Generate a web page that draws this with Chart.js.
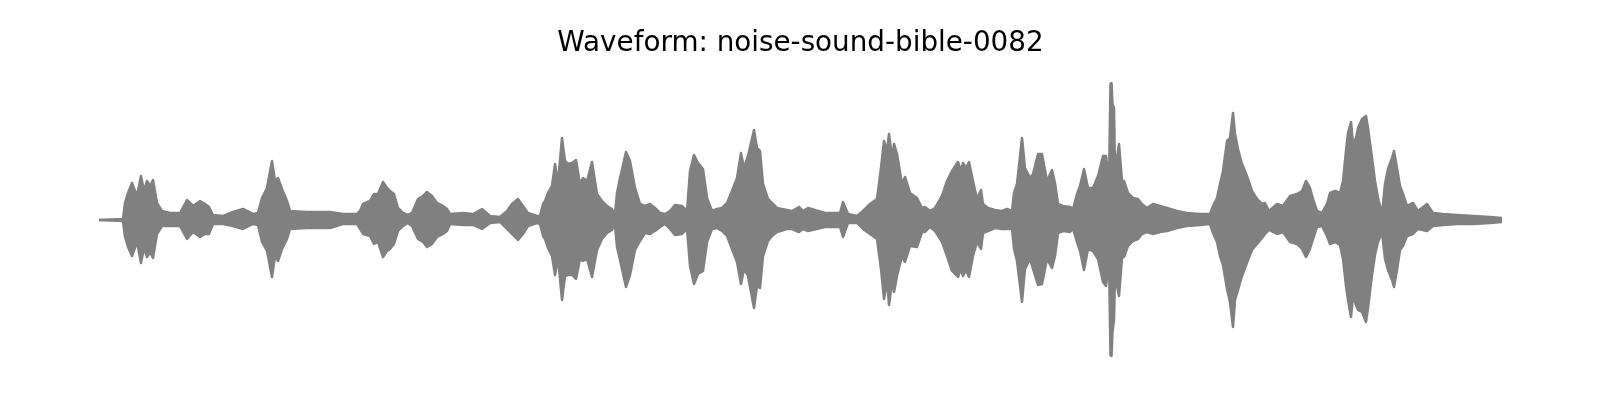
<!DOCTYPE html>
<html>
<head>
<meta charset="utf-8">
<title>Waveform</title>
<script src="https://cdn.jsdelivr.net/npm/chart.js@4.4.1/dist/chart.umd.min.js"></script>
<style>
    html, body { margin: 0; padding: 0; background: #fff; }
    #wrap { width: 1600px; height: 400px; position: relative; }
</style>
</head>
<body>
<div id="wrap"><canvas id="waveChart"></canvas></div>
<script>
// время, мс (огибающая волны)
const timeMs = [
    0, 240, 260, 290, 330, 380, 420, 450, 480, 510, 540, 580, 630, 710, 810, 880, 940, 1010, 1060, 1100,
    1140, 1240, 1340, 1440, 1540, 1590, 1630, 1680, 1730, 1760, 1790, 1830, 1880, 1910, 2080, 2310,
    2440, 2580, 2610, 2640, 2710, 2750, 2790, 2840, 2880, 2910, 2950, 2990, 3040, 3090, 3130, 3190, 3240,
    3280, 3330, 3380, 3440, 3480, 3510, 3640, 3740, 3830, 3910, 4010, 4080, 4130, 4190, 4240, 4290, 4380,
    4410, 4440, 4460, 4490, 4530, 4560, 4590, 4630, 4660, 4690, 4730, 4770, 4810, 4840, 4880, 4930, 4980,
    5030, 5080, 5130, 5160, 5180, 5210, 5270, 5310, 5360, 5410,
    5460, 5510, 5560, 5610, 5660, 5710, 5760, 5830, 5880, 5910, 5950, 5990, 6040, 6080, 6130, 6180, 6230,
    6280, 6330, 6380, 6420, 6450, 6490, 6550, 6580, 6610, 6640, 6690, 6730, 6780, 6880, 6930, 7000, 7040, 7090,
    7260, 7410, 7440, 7490, 7580, 7640, 7710, 7780, 7820, 7850, 7880, 7900, 7930, 7950, 7980, 8030, 8060,
    8110, 8180, 8230, 8260, 8310, 8360, 8430, 8480, 8530, 8590, 8620, 8640, 8670, 8700, 8740, 8780, 8820,
    8840, 8890, 8960, 9030, 9080, 9130, 9150, 9180, 9230, 9260, 9310, 9340, 9390, 9430, 9480,
    9530, 9560, 9590, 9640, 9710, 9740, 9780, 9810, 9850, 9890, 9940, 9990, 10040, 10070, 10100, 10115, 10125,
    10135, 10150, 10160, 10200, 10230, 10250, 10290, 10340, 10390, 10430, 10480, 10540, 10610, 10680, 10780, 10880, 11010,
    11110, 11140, 11180, 11210, 11240, 11280, 11310, 11340, 11360, 11390, 11430, 11460, 11490, 11530, 11580,
    11630, 11660, 11700, 11780, 11840,
    11910, 11980, 12030, 12070, 12110, 12140, 12180, 12230, 12280, 12310,
    12360, 12410, 12440, 12470, 12490, 12520, 12540, 12570, 12590, 12630, 12670, 12690, 12730, 12760, 12790,
    12830, 12860, 12890, 12930, 12950, 12980, 13010, 13040,
    13080, 13140, 13190, 13280, 13340, 13440, 13580, 13740, 13910, 14030
];

// верхняя огибающая (положительные пики)
const upperPeak = [
    0, 1, 17, 27, 37, 24, 44, 29, 39, 34, 40, 17, 9, 7, 7, 20, 14, 19, 16, 13,
    5, 4, 8, 11, 6, 7, 22, 32, 59, 39, 42, 31, 19, 9, 8, 8,
    6, 6, 9, 16, 19, 26, 26, 38, 32, 29, 26, 12, 7, 5, 7, 21, 24,
    28, 24, 17, 14, 11, 6, 7, 6, 11, 4, 3, 9, 16, 21, 14, 7, 4,
    4, 16, 19, 27, 34, 56, 37, 82, 59, 56, 57, 60, 36, 42, 39, 58, 26,
    19, 14, 11, 5, 27, 42, 68, 59, 32, 16,
    14, 16, 12, 7, 6, 9, 15, 14, 9, 49, 65, 57, 51, 22, 9, 11, 12,
    17, 29, 42, 67, 52, 64, 90, 72, 69, 36, 21, 17, 12, 10, 9, 13, 9, 12,
    7, 7, 18, 6, 4, 9, 16, 21, 52, 79, 69, 86, 62, 76, 66, 36, 43,
    27, 22, 12, 13, 9, 12, 24, 39, 49, 58, 49, 57, 52, 58, 39, 21, 30,
    16, 12, 10, 9, 11, 9, 27, 36, 82, 52, 42, 46, 66, 66, 39,
    50, 37, 16, 14, 13, 11, 26, 34, 51, 32, 32, 44, 64, 64, 39, 136, 137,
    116, 112, 49, 76, 39, 39, 27, 22, 21, 16, 12, 16, 14, 12, 9, 7, 6,
    6, 14, 22, 36, 49, 79, 82, 107, 86, 71, 56, 49, 41, 29, 21,
    16, 17, 9, 16, 14,
    24, 26, 29, 39, 32, 21, 9, 7, 16, 27,
    29, 27, 39, 69, 87, 98, 76, 82, 92, 101, 104, 92, 62, 39, 22,
    6, 36, 51, 62, 69, 52, 34, 26,
    14, 17, 9, 16, 7, 6, 5, 4, 3, 2
];

// нижняя огибающая (модуль отрицательных пиков)
const lowerPeak = [
    0, 1, 17, 27, 36, 22, 43, 28, 37, 32, 38, 14, 6, 6, 6, 19, 12, 17, 14, 14,
    4, 4, 6, 9, 4, 5, 22, 31, 57, 36, 41, 29, 19, 9, 8, 8,
    4, 4, 9, 14, 16, 24, 22, 37, 31, 29, 24, 11, 6, 3, 6, 19, 22,
    27, 24, 17, 14, 11, 4, 5, 5, 9, 3, 2, 9, 14, 20, 14, 6, 3,
    4, 16, 19, 28, 36, 55, 38, 80, 56, 55, 55, 59, 39, 41, 39, 57, 30,
    19, 13, 10, 5, 27, 40, 67, 55, 30, 21,
    13, 14, 11, 7, 4, 9, 15, 14, 9, 46, 64, 54, 51, 22, 9, 8, 11,
    16, 29, 42, 64, 49, 56, 88, 66, 68, 36, 21, 16, 12, 9, 9, 12, 9, 11,
    7, 7, 17, 3, 3, 9, 14, 19, 49, 79, 60, 85, 62, 72, 56, 36, 42,
    26, 27, 12, 12, 7, 11, 22, 36, 51, 57, 49, 56, 50, 57, 36, 22, 29,
    13, 11, 8, 9, 9, 9, 29, 41, 82, 49, 39, 49, 65, 64, 39,
    48, 36, 13, 11, 12, 9, 22, 31, 50, 29, 31, 39, 62, 66, 40, 135, 136,
    112, 100, 56, 76, 38, 37, 26, 21, 19, 14, 12, 14, 12, 11, 8, 6, 5,
    4, 13, 22, 36, 45, 69, 82, 107, 80, 70, 56, 48, 40, 30, 24,
    18, 14, 10, 14, 12,
    22, 24, 29, 37, 29, 19, 7, 6, 16, 24,
    22, 25, 39, 66, 80, 97, 76, 85, 90, 92, 102, 88, 55, 35, 22,
    12, 39, 50, 60, 67, 50, 30, 26,
    16, 14, 9, 11, 6, 5, 4, 4, 3, 2
];

const titleText = 'Waveform: noise-sound-bible-0082';
const ampLimit = 150;
const waveColor = '#808080';

document.addEventListener('DOMContentLoaded', function() {
    const upperPoints = timeMs.map((t, i) => ({ x: t, y: upperPeak[i] }));
    const lowerPoints = timeMs.map((t, i) => ({ x: t, y: -lowerPeak[i] }));

    const lineStyle = {
        borderColor: waveColor,
        backgroundColor: waveColor,
        borderWidth: 2.5,
        pointRadius: 0,
        tension: 0,
        borderCapStyle: 'round',
        borderJoinStyle: 'round'
    };

    new Chart(document.getElementById('waveChart'), {
        type: 'line',
        data: {
            datasets: [
                Object.assign({ data: upperPoints, fill: '+1' }, lineStyle),
                Object.assign({ data: lowerPoints, fill: false }, lineStyle)
            ]
        },
        options: {
            responsive: true,
            maintainAspectRatio: false,
            animation: false,
            layout: {
                padding: { left: 99, right: 98, top: 0, bottom: 30 }
            },
            scales: {
                x: { type: 'linear', min: 0, max: timeMs[timeMs.length - 1], display: false },
                y: { min: -ampLimit, max: ampLimit, display: false }
            },
            plugins: {
                legend: { display: false },
                tooltip: { enabled: false },
                title: {
                    display: true,
                    text: titleText,
                    color: '#000',
                    font: { family: 'DejaVu Sans', size: 27.8, weight: 'normal' },
                    padding: { top: 27, bottom: 9.6 }
                }
            }
        }
    });
});
</script>
</body>
</html>
